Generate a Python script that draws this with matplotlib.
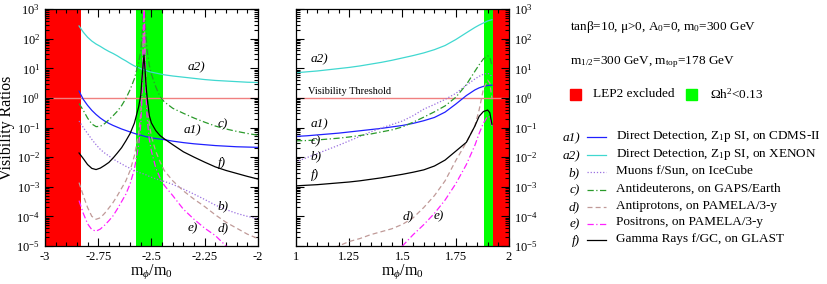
import numpy as np
import matplotlib
matplotlib.use('Agg')
import matplotlib.pyplot as plt
from matplotlib.lines import Line2D
from matplotlib.patches import Rectangle
from matplotlib.ticker import LogLocator, MultipleLocator, FormatStrFormatter, NullFormatter

plt.rcParams['font.family'] = ['Liberation Serif', 'DejaVu Serif']
plt.rcParams['mathtext.fontset'] = 'custom'
plt.rcParams['mathtext.rm'] = 'Liberation Serif'
plt.rcParams['mathtext.it'] = 'Liberation Serif:italic'

# ---- data (log10 of visibility ratio) ----
x_left = [-2.84, -2.82, -2.80, -2.78, -2.76, -2.74, -2.72, -2.70, -2.68, -2.66,
          -2.64, -2.62, -2.60, -2.58, -2.56, -2.55, -2.545, -2.54, -2.535, -2.53,
          -2.525, -2.52, -2.51, -2.50, -2.48, -2.46, -2.44, -2.40, -2.35, -2.30,
          -2.25, -2.20, -2.15, -2.10, -2.05, -2.00]
a1_left = [0.23, -0.05, -0.25, -0.42, -0.56, -0.68, -0.78, -0.86, -0.93, -0.99,
           -1.05, -1.10, -1.15, -1.20, -1.24, -1.26, -1.27, -1.28, -1.29, -1.30,
           -1.31, -1.32, -1.33, -1.35, -1.37, -1.39, -1.41, -1.46, -1.51, -1.55,
           -1.58, -1.61, -1.63, -1.65, -1.66, -1.67]
a2_left = [2.43, 2.22, 2.05, 1.92, 1.82, 1.74, 1.65, 1.57, 1.50, 1.42,
           1.33, 1.25, 1.16, 1.08, 1.02, 0.99, 0.97, 0.96, 0.95, 0.94,
           0.93, 0.91, 0.89, 0.87, 0.84, 0.81, 0.78, 0.74, 0.70, 0.66,
           0.62, 0.59, 0.57, 0.55, 0.53, 0.52]
b_left = [-0.78, -1.0, -1.2, -1.4, -1.58, -1.74, -1.86, -1.96, -2.06, -2.15,
          -2.23, -2.31, -2.38, -2.45, -2.51, -2.54, -2.55, -2.56, -2.57, -2.59,
          -2.60, -2.62, -2.65, -2.68, -2.73, -2.78, -2.82, -2.92, -3.08, -3.25,
          -3.43, -3.62, -3.77, -3.90, -4.00, -4.08]
c_left = [-0.19, -0.42, -0.68, -0.88, -0.97, -0.96, -0.87, -0.74, -0.60, -0.45,
          -0.26, -0.02, 0.28, 0.65, 1.2, 1.6, 2.0, 2.6, 3.5, 2.6,
          2.0, 1.6, 1.1, 0.8, 0.38, 0.05, -0.13, -0.35, -0.52, -0.68,
          -0.82, -0.95, -1.05, -1.13, -1.20, -1.26]
d_left = [-2.86, -3.3, -3.7, -4.0, -4.1, -4.05, -3.9, -3.72, -3.53, -3.3,
          -3.05, -2.8, -2.45, -1.95, -1.2, -0.5, 0.3, 1.5, 3.5, 1.5,
          0.5, -0.2, -0.9, -1.3, -1.8, -2.15, -2.45, -2.8, -3.14, -3.42,
          -3.67, -3.95, -4.2, -4.4, -4.6, -4.75]
e_left = [-3.47, -3.9, -4.25, -4.45, -4.5, -4.43, -4.3, -4.15, -3.98, -3.75,
          -3.5, -3.25, -2.9, -2.4, -1.6, -0.9, -0.1, 1.2, 3.5, 1.2,
          0.0, -0.7, -1.4, -1.8, -2.35, -2.7, -2.95, -3.3, -3.76, -4.1,
          -4.4, -4.65, -5.0, -5.3, -5.55, -5.8]
f_left = [-1.86, -2.05, -2.25, -2.38, -2.42, -2.37, -2.28, -2.18, -2.03, -1.86,
          -1.68, -1.45, -1.2, -0.85, -0.3, 0.1, 0.6, 1.05, 1.45, 0.95,
          0.4, 0.0, -0.6, -0.85, -1.1, -1.27, -1.38, -1.58, -1.82, -2.0,
          -2.17, -2.33, -2.45, -2.55, -2.65, -2.74]

x_right = [1.0, 1.05, 1.1, 1.15, 1.2, 1.25, 1.3, 1.35, 1.4, 1.45, 1.5, 1.55,
           1.6, 1.65, 1.7, 1.75, 1.8, 1.84, 1.86, 1.88, 1.9, 1.91, 1.92]
a1_right = [-1.3, -1.28, -1.25, -1.22, -1.19, -1.15, -1.11, -1.07, -1.03, -0.98, -0.93, -0.86,
            -0.77, -0.66, -0.48, -0.21, 0.08, 0.27, 0.34, 0.39, 0.42, 0.43, 0.43]
a2_right = [0.85, 0.88, 0.91, 0.95, 0.99, 1.03, 1.08, 1.14, 1.2, 1.27, 1.35, 1.43,
            1.52, 1.63, 1.77, 1.97, 2.2, 2.38, 2.46, 2.53, 2.6, 2.62, 2.64]
b_right = [-2.16, -2.02, -1.88, -1.74, -1.6, -1.45, -1.3, -1.15, -1.02, -0.9, -0.78, -0.6,
           -0.38, -0.22, -0.05, 0.15, 0.43, 0.64, 0.73, 0.8, 0.83, 0.8, 0.72]
c_right = [-1.45, -1.44, -1.42, -1.39, -1.36, -1.32, -1.27, -1.22, -1.15, -1.08, -0.98, -0.82,
           -0.65, -0.47, -0.27, 0.02, 0.45, 0.9, 1.12, 1.32, 1.42, 1.38, 1.1]
d_right = [-5.5, -5.4, -5.3, -5.15, -5.0, -4.85, -4.75, -4.62, -4.52, -4.42, -4.27, -4.05,
           -3.7, -3.3, -2.8, -2.12, -1.5, -0.94, -0.4, 0.3, 0.6, 0.5, 0.0]
e_right = [-7.5, -7.2, -6.9, -6.6, -6.3, -6.0, -5.8, -5.6, -5.4, -5.2, -5.0, -4.62,
           -4.28, -3.9, -3.45, -2.9, -2.25, -1.6, -1.2, -0.85, -0.62, -0.65, -0.95]
f_right = [-2.97, -2.95, -2.93, -2.9, -2.87, -2.84, -2.8, -2.75, -2.7, -2.64, -2.58, -2.51,
           -2.43, -2.3, -2.1, -1.8, -1.5, -0.95, -0.62, -0.46, -0.41, -0.5, -0.89]

# excluded / preferred regions
lep2_left = (-3.0, -2.832)
relic_left = (-2.573, -2.448)
relic_right = (1.883, 1.923)
lep2_right = (1.923, 2.0)

tags = ['a1)', 'a2)', 'b)', 'c)', 'd)', 'e)', 'f)']
names = ['Direct Detection, Z$_1$p SI, on CDMS-II',
         'Direct Detection, Z$_1$p SI, on XENON',
         'Muons f/Sun, on IceCube',
         'Antideuterons, on GAPS/Earth',
         'Antiprotons, on PAMELA/3-y',
         'Positrons, on PAMELA/3-y',
         'Gamma Rays f/GC, on GLAST']
colors = ['#2020ff', '#40d8d0', '#9a70e0', '#2a9a2a', '#c09a98', '#ff20ff', 'black']
styles = ['-', '-', (0, (1, 1.5)), (0, (5, 2, 1, 2)), (0, (4, 2.5)), (0, (5, 2, 1, 2)), '-']

left_series = [a1_left, a2_left, b_left, c_left, d_left, e_left, f_left]
right_series = [a1_right, a2_right, b_right, c_right, d_right, e_right, f_right]

fig = plt.figure(figsize=(8.28, 2.84), dpi=100)
ax1 = fig.add_axes([0.0543, 0.134, 0.2572, 0.834])
ax2 = fig.add_axes([0.3575, 0.134, 0.2572, 0.834])


def setup(ax, xlo, xhi):
    ax.set_yscale('log')
    ax.set_xlim(xlo, xhi)
    ax.set_ylim(1e-5, 1e3)
    ax.xaxis.set_major_locator(MultipleLocator(0.25))
    ax.xaxis.set_minor_locator(MultipleLocator(0.05))
    ax.xaxis.set_major_formatter(FormatStrFormatter('%g'))
    ax.yaxis.set_major_locator(LogLocator(base=10, numticks=20))
    ax.yaxis.set_minor_locator(LogLocator(base=10, subs=np.arange(2, 10), numticks=20))
    ax.yaxis.set_minor_formatter(NullFormatter())
    ax.tick_params(which='both', direction='in', top=True, bottom=True,
                   left=True, right=True, labelsize=9, width=0.8)
    ax.tick_params(which='major', length=6, pad=3.5)
    ax.tick_params(which='minor', length=3)
    ax.set_xlabel(r'm$_\phi$/m$_0$', fontsize=11.5, labelpad=0)
    for sp in ax.spines.values():
        sp.set_linewidth(0.9)


setup(ax1, -3, -2)
setup(ax2, 1, 2)
ax2.tick_params(axis='y', labelleft=False, labelright=True)
ax1.set_ylabel('Visibility Ratios', fontsize=11.5, labelpad=1)

ax1.axvspan(*lep2_left, color='#ff0000', lw=0, zorder=0)
ax1.axvspan(*relic_left, color='#00ff00', lw=0, zorder=0)
ax2.axvspan(*relic_right, color='#00ff00', lw=0, zorder=0)
ax2.axvspan(*lep2_right, color='#ff0000', lw=0, zorder=0)

for ax in (ax1, ax2):
    ax.axhline(1.0, color='#f08080', lw=1.0, zorder=1)

for ys, c, ls in zip(left_series, colors, styles):
    ax1.plot(x_left, 10 ** np.array(ys), color=c, ls=ls, lw=0.9, zorder=2)
for ys, c, ls in zip(right_series, colors, styles):
    ax2.plot(x_right, 10 ** np.array(ys), color=c, ls=ls, lw=0.9, zorder=2)

# curve tags on the panels
lab = dict(fontsize=9.5, style='italic')
ax1.text(-2.33, 10 ** 0.92, 'a2)', **lab)
ax1.text(-2.19, 10 ** -1.0, 'c)', **lab)
ax1.text(-2.35, 10 ** -1.2, 'a1)', **lab)
ax1.text(-2.19, 10 ** -2.3, 'f)', **lab)
ax1.text(-2.19, 10 ** -3.75, 'b)', **lab)
ax1.text(-2.33, 10 ** -4.5, 'e)', **lab)
ax1.text(-2.19, 10 ** -4.5, 'd)', **lab)

ax2.text(1.07, 10 ** 1.2, 'a2)', **lab)
ax2.text(1.07, 10 ** -1.0, 'a1)', **lab)
ax2.text(1.07, 10 ** -1.56, 'c)', **lab)
ax2.text(1.07, 10 ** -2.07, 'b)', **lab)
ax2.text(1.07, 10 ** -2.69, 'f)', **lab)
ax2.text(1.50, 10 ** -4.09, 'd)', **lab)
ax2.text(1.645, 10 ** -4.09, 'e)', **lab)
ax2.text(1.056, 10 ** 0.13, 'Visibility Threshold', fontsize=7.5)

# right-hand side legend and parameters
W, H = 828.0, 284.0


def fx(px):
    return px / W


def fy(py):
    return 1 - py / H


fig.text(fx(570), fy(27), 'tanβ=10, μ>0, A$_0$=0, m$_0$=300 GeV',
         fontsize=9.5, va='center')
fig.text(fx(570), fy(62), r'm$_{1/2}$=300 GeV, m$_{\rm top}$=178 GeV',
         fontsize=9.5, va='center')
fig.add_artist(Rectangle((fx(570), fy(100)), 11 / W, 11 / H, color='#ff0000',
                         transform=fig.transFigure))
fig.text(fx(593), fy(94), 'LEP2 excluded', fontsize=9.5, va='center')
fig.add_artist(Rectangle((fx(686), fy(100)), 11 / W, 11 / H, color='#00ff00',
                         transform=fig.transFigure))
fig.text(fx(710), fy(94), 'Ωh$^2$<0.13', fontsize=9.5, va='center')

rows = [138, 156, 173, 190.5, 207.5, 224.5, 241]
for py, t, n, c, ls in zip(rows, tags, names, colors, styles):
    fig.text(fx(580), fy(py), t, fontsize=9.5, style='italic', ha='right', va='center')
    fig.add_artist(Line2D([fx(587), fx(606)], [fy(py - 1), fy(py - 1)], color=c, ls=ls,
                          lw=0.9, transform=fig.transFigure))
    fig.text(fx(616), fy(py - 2), n, fontsize=9.5, va='center')

fig.savefig('out.png', dpi=100)
